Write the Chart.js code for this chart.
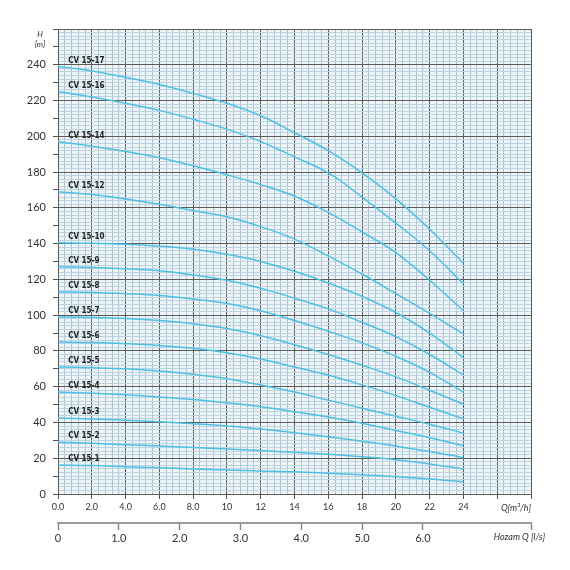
<!DOCTYPE html>
<html>
<head>
<meta charset="utf-8">
<script src="https://cdn.jsdelivr.net/npm/chart.js@4.4.1/dist/chart.umd.min.js"></script>
<style>
  html, body { margin: 0; padding: 0; background: #fff; }
</style>
</head>
<body>
<canvas id="pumpChart" width="570" height="570"></canvas>
<script>
// flow points [m3/h]
const flowQ = [0, 2, 4, 6, 8, 10, 12, 14, 16, 18, 20, 22, 24];

// head [m] for each pump model
const cv15_17 = [239, 236.5, 233, 229, 224, 218.5, 211.5, 202, 192, 179.5, 165, 148, 129];
const cv15_16 = [225, 222, 218.5, 214.5, 209.5, 204, 197, 188.5, 179.5, 166, 151.5, 136, 117.5];
const cv15_14 = [197, 194.5, 191.5, 188, 183.5, 178.5, 173, 166.5, 157.5, 146.5, 135, 119.5, 102.5];
const cv15_12 = [169, 167.5, 165, 162, 158.5, 155, 149.5, 142.5, 133, 123, 112, 101, 89.5];
const cv15_10 = [140.5, 140.2, 139.6, 138.6, 136.8, 134, 130, 124.5, 118, 110.5, 101.5, 90, 76.3];
const cv15_9 = [127, 126.7, 126, 124.8, 122.5, 119.5, 115, 109.5, 103.5, 96, 88, 78, 66.6];
const cv15_8 = [113, 112.7, 112, 111, 109, 106.5, 102.5, 97, 91, 84.5, 77, 68, 57];
const cv15_7 = [99, 98.7, 98.1, 97, 95.2, 92.5, 88.5, 83.5, 78, 72, 65.5, 58, 50.2];
const cv15_6 = [85, 84.7, 84, 83, 81.5, 79, 75.5, 71, 66.5, 61, 55, 48.5, 42];
const cv15_5 = [71, 70.6, 70, 68.8, 67, 64.5, 61, 57, 52.5, 48, 43.5, 39, 34];
const cv15_4 = [57, 56.4, 55.5, 54.3, 52.8, 51, 48.8, 46, 43, 39.5, 35.5, 31.5, 27];
const cv15_3 = [42.5, 42, 41.3, 40.4, 39.3, 38, 36.3, 34.3, 32, 29.5, 26.8, 23.8, 20.3];
const cv15_2 = [29, 28.4, 27.6, 26.8, 26, 25.2, 24.3, 23.3, 22.2, 20.8, 19.2, 16.8, 14];
const cv15_1 = [16.2, 15.9, 15.3, 14.7, 14, 13.4, 12.9, 12.4, 11.6, 10.7, 9.7, 8.4, 6.8];

const models = ['CV 15-17', 'CV 15-16', 'CV 15-14', 'CV 15-12', 'CV 15-10', 'CV 15-9', 'CV 15-8',
  'CV 15-7', 'CV 15-6', 'CV 15-5', 'CV 15-4', 'CV 15-3', 'CV 15-2', 'CV 15-1'];
const heads = [cv15_17, cv15_16, cv15_14, cv15_12, cv15_10, cv15_9, cv15_8,
  cv15_7, cv15_6, cv15_5, cv15_4, cv15_3, cv15_2, cv15_1];

// axis ranges
const qMax = 28;         // m3/h
const hMax = 260;        // m
const lsPerM3h = 1 / 3.6;

const majorColor = '#5c5c5c';
const curveColor = '#4ec0e6';

function near(v, step) {
  const r = v / step;
  return Math.abs(r - Math.round(r)) < 1e-6;
}

const datasets = heads.map((h, i) => ({
  label: models[i],
  data: flowQ.map((q, j) => ({ x: q, y: h[j] })),
  borderColor: curveColor,
  borderWidth: 1.5,
  pointRadius: 0,
  fill: false,
  tension: 0.4
}));

const paperPlugin = {
  id: 'paper',
  beforeDraw(chart) {
    const { ctx, chartArea: a } = chart;
    ctx.save();
    ctx.fillStyle = '#eef5f9';
    ctx.fillRect(a.left, a.top, a.right - a.left, a.bottom - a.top);
    ctx.restore();
  }
};

const curveLabels = {
  id: 'curveLabels',
  afterDatasetsDraw(chart) {
    const { ctx } = chart;
    const xs = chart.scales.x, ys = chart.scales.y;
    ctx.save();
    ctx.font = 'bold 8px "Liberation Sans Narrow", "DejaVu Sans Condensed", sans-serif';
    ctx.fillStyle = '#1e1e1e';
    ctx.textBaseline = 'alphabetic';
    heads.forEach((h, i) => {
      ctx.fillText(models[i], xs.getPixelForValue(0.6), ys.getPixelForValue(h[0]) - 4);
    });
    ctx.restore();
  }
};

const axisTitles = {
  id: 'axisTitles',
  afterDraw(chart) {
    const { ctx } = chart;
    ctx.save();
    ctx.fillStyle = '#333';
    ctx.textAlign = 'center';
    ctx.textBaseline = 'middle';
    ctx.font = 'italic 8px Lato, sans-serif';
    ctx.fillText('H', 40, 34);
    ctx.fillText('[m]', 40, 44);
    ctx.textAlign = 'right';
    ctx.font = 'italic 9px Lato, sans-serif';
    ctx.fillText('Q[m\u00b3/h]', 531, 508);
    ctx.fillText('Hozam Q [l/s]', 545, 537);
    ctx.restore();
  }
};

new Chart(document.getElementById('pumpChart'), {
  type: 'line',
  data: { datasets },
  plugins: [paperPlugin, curveLabels, axisTitles],
  options: {
    responsive: false,
    animation: false,
    devicePixelRatio: 1,
    layout: { padding: { left: 0, right: 39, top: 29, bottom: 17 } },
    plugins: { legend: { display: false }, tooltip: { enabled: false } },
    scales: {
      x: {
        type: 'linear',
        position: 'bottom',
        weight: 0,
        min: 0,
        max: qMax,
        afterFit(scale) { scale.height = 29; },
        border: { color: majorColor, width: 1 },
        grid: {
          color: c => near(c.tick.value, 2) ? majorColor : '#b3c2cc',
          lineWidth: 1,
          tickLength: 5,
          tickColor: c => near(c.tick.value, 1) ? '#555' : 'rgba(0,0,0,0)'
        },
        ticks: {
          stepSize: 0.4,
          autoSkip: false,
          maxRotation: 0,
          padding: 3,
          color: '#333',
          font: { family: 'Lato', size: 9 },
          callback: v => {
            if (!near(v, 2) || v > 24.001) return '';
            const r = Math.round(v);
            return r < 10 ? r.toFixed(1) : String(r);
          }
        }
      },
      x2: {
        type: 'linear',
        position: 'bottom',
        weight: 1,
        min: 0,
        max: qMax * lsPerM3h,
        afterFit(scale) { scale.height = 30; },
        border: { color: '#9a9a9a', width: 2 },
        grid: { drawOnChartArea: false, tickLength: 7, tickColor: '#888', tickWidth: 1.5 },
        ticks: {
          stepSize: 1,
          autoSkip: false,
          maxRotation: 0,
          padding: 2,
          color: '#333',
          font: { family: 'Lato', size: 11 },
          callback: v => v === 0 ? '0' : (v <= 6 ? v.toFixed(1) : '')
        }
      },
      y: {
        type: 'linear',
        min: 0,
        max: hMax,
        afterFit(scale) { scale.width = 58; },
        border: { color: majorColor, width: 1 },
        grid: {
          color: c => near(c.tick.value, 20) ? majorColor : '#bcd4e1',
          lineWidth: 1,
          tickLength: 5,
          tickColor: c => near(c.tick.value, 10) ? '#555' : 'rgba(0,0,0,0)'
        },
        ticks: {
          stepSize: 2,
          autoSkip: false,
          padding: 7,
          color: '#333',
          font: { family: 'Lato', size: 11 },
          callback: v => (near(v, 20) && v < 250) ? String(Math.round(v)) : ''
        }
      }
    }
  }
});
</script>
</body>
</html>
